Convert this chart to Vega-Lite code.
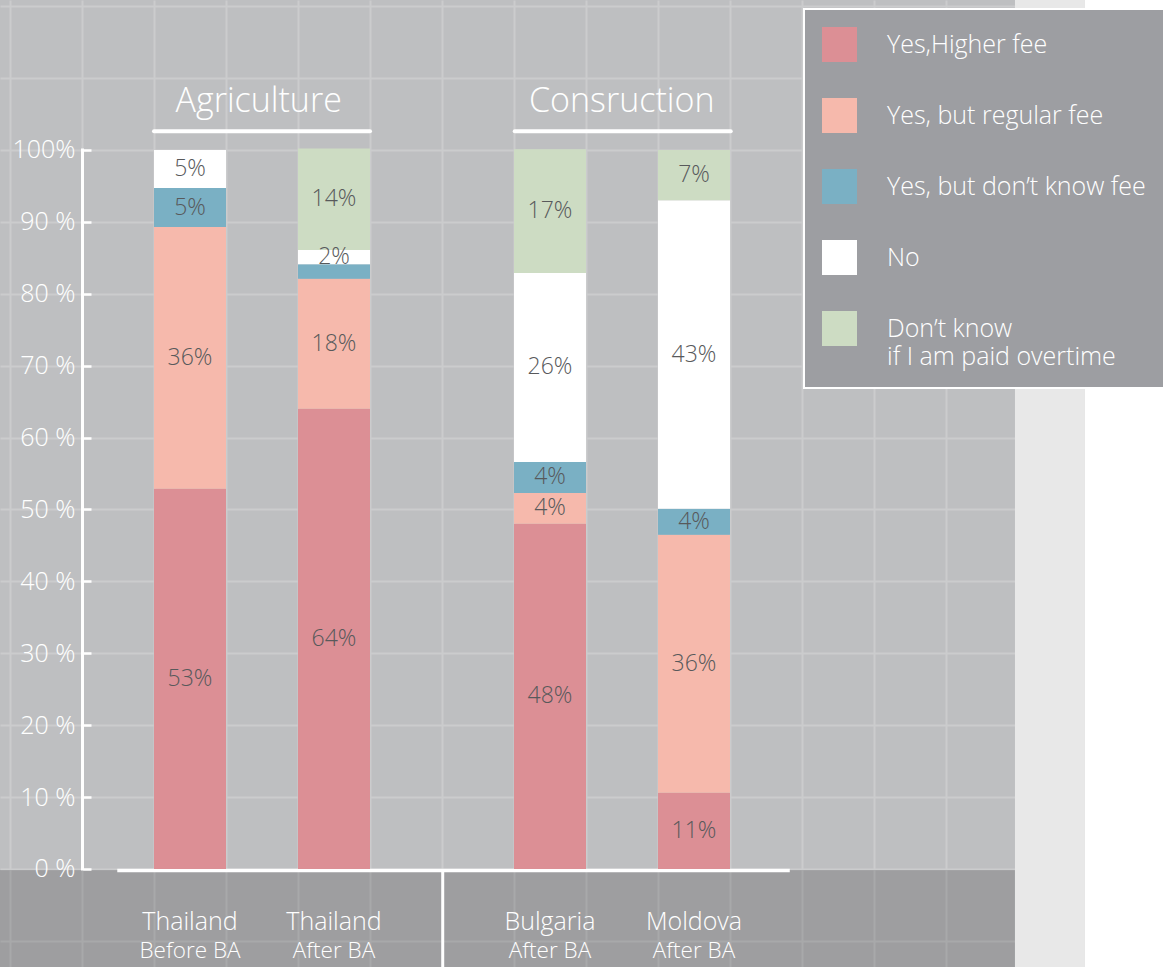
{
  "$schema": "https://vega.github.io/schema/vega-lite/v6.json",
  "width": 1168,
  "height": 967,
  "autosize": "none",
  "padding": 0,
  "background": "#ffffff",
  "config": {"view": {"stroke": null, "fill": "#bebfc1"}, "font": "Open Sans", "style": {"guide-label": {"lineHeight": 28}}, "legend": {"strokeWidth": 2}},
  "resolve": {"scale": {"x": "independent", "y": "independent"}, "axis": {"x": "independent", "y": "independent"}},
  "layer": [
    {
      "data": {"values": [{}]},
      "layer": [
        {
          "mark": {"type": "rect", "color": "#000000", "opacity": 0.17},
          "encoding": {
            "x": {"datum": -1, "type": "quantitative", "scale": {"domain": [-0.1389, 16.0833], "nice": false, "zero": false},
              "axis": {"orient": "bottom", "values": [0,1,2,3,4,5,6,7,8,9,10,11,12,13,14,15,16], "grid": true, "gridColor": "#cbcccd", "gridWidth": 2, "gridOpacity": 1, "labels": false, "ticks": false, "domain": false, "title": null}},
            "x2": {"datum": 13.958},
            "y": {"datum": -0.15, "type": "quantitative", "scale": {"domain": [-13.63, 120.86], "nice": false, "zero": false},
              "axis": {"orient": "left", "values": [-10,0,10,20,30,40,50,60,70,80,90,100,110,120], "grid": true, "gridColor": "#cbcccd", "gridWidth": 2, "gridOpacity": 1, "labels": false, "ticks": false, "domain": false, "title": null}},
            "y2": {"datum": -20}
          }
        },
        {
          "mark": {"type": "rect", "color": "#e8e8e8", "opacity": 1},
          "encoding": {
            "x": {"datum": 13.958, "type": "quantitative", "scale": {"domain": [-0.1389, 16.0833], "nice": false, "zero": false},
              "axis": {"orient": "bottom", "values": [0,1,2,3,4,5,6,7,8,9,10,11,12,13,14,15,16], "grid": true, "gridColor": "#cbcccd", "gridWidth": 2, "gridOpacity": 1, "labels": false, "ticks": false, "domain": false, "title": null}},
            "x2": {"datum": 14.93},
            "y": {"datum": -20, "type": "quantitative", "scale": {"domain": [-13.63, 120.86], "nice": false, "zero": false},
              "axis": {"orient": "left", "values": [-10,0,10,20,30,40,50,60,70,80,90,100,110,120], "grid": true, "gridColor": "#cbcccd", "gridWidth": 2, "gridOpacity": 1, "labels": false, "ticks": false, "domain": false, "title": null}},
            "y2": {"datum": 130}
          }
        },
        {
          "mark": {"type": "rect", "color": "#ffffff", "opacity": 1},
          "encoding": {
            "x": {"datum": 14.93, "type": "quantitative", "scale": {"domain": [-0.1389, 16.0833], "nice": false, "zero": false},
              "axis": {"orient": "bottom", "values": [0,1,2,3,4,5,6,7,8,9,10,11,12,13,14,15,16], "grid": true, "gridColor": "#cbcccd", "gridWidth": 2, "gridOpacity": 1, "labels": false, "ticks": false, "domain": false, "title": null}},
            "x2": {"datum": 17},
            "y": {"datum": -20, "type": "quantitative", "scale": {"domain": [-13.63, 120.86], "nice": false, "zero": false},
              "axis": {"orient": "left", "values": [-10,0,10,20,30,40,50,60,70,80,90,100,110,120], "grid": true, "gridColor": "#cbcccd", "gridWidth": 2, "gridOpacity": 1, "labels": false, "ticks": false, "domain": false, "title": null}},
            "y2": {"datum": 130}
          }
        },
        {
          "mark": {"type": "rule", "color": "#ffffff", "strokeWidth": 3},
          "encoding": {
            "x": {"datum": 6.01, "type": "quantitative", "scale": {"domain": [-0.1389, 16.0833], "nice": false, "zero": false},
              "axis": {"orient": "bottom", "values": [0,1,2,3,4,5,6,7,8,9,10,11,12,13,14,15,16], "grid": true, "gridColor": "#cbcccd", "gridWidth": 2, "gridOpacity": 1, "labels": false, "ticks": false, "domain": false, "title": null}},
            "y": {"datum": -0.15, "type": "quantitative", "scale": {"domain": [-13.63, 120.86], "nice": false, "zero": false},
              "axis": {"orient": "left", "values": [-10,0,10,20,30,40,50,60,70,80,90,100,110,120], "grid": true, "gridColor": "#cbcccd", "gridWidth": 2, "gridOpacity": 1, "labels": false, "ticks": false, "domain": false, "title": null}},
            "y2": {"datum": -20}
          }
        },
        {
          "mark": {"type": "rule", "color": "#ffffff", "strokeWidth": 3.5},
          "encoding": {
            "x": {"datum": 1.49, "type": "quantitative", "scale": {"domain": [-0.1389, 16.0833], "nice": false, "zero": false},
              "axis": {"orient": "bottom", "values": [0,1,2,3,4,5,6,7,8,9,10,11,12,13,14,15,16], "grid": true, "gridColor": "#cbcccd", "gridWidth": 2, "gridOpacity": 1, "labels": false, "ticks": false, "domain": false, "title": null}},
            "x2": {"datum": 10.83},
            "y": {"datum": -0.2, "type": "quantitative", "scale": {"domain": [-13.63, 120.86], "nice": false, "zero": false},
              "axis": {"orient": "left", "values": [-10,0,10,20,30,40,50,60,70,80,90,100,110,120], "grid": true, "gridColor": "#cbcccd", "gridWidth": 2, "gridOpacity": 1, "labels": false, "ticks": false, "domain": false, "title": null}}
          }
        },
        {
          "mark": {"type": "rule", "color": "#ffffff", "strokeWidth": 3},
          "encoding": {
            "x": {"datum": 1.007, "type": "quantitative", "scale": {"domain": [-0.1389, 16.0833], "nice": false, "zero": false},
              "axis": {"orient": "bottom", "values": [0,1,2,3,4,5,6,7,8,9,10,11,12,13,14,15,16], "grid": true, "gridColor": "#cbcccd", "gridWidth": 2, "gridOpacity": 1, "labels": false, "ticks": false, "domain": false, "title": null}},
            "y": {"datum": -0.2, "type": "quantitative", "scale": {"domain": [-13.63, 120.86], "nice": false, "zero": false},
              "axis": {"orient": "left", "values": [-10,0,10,20,30,40,50,60,70,80,90,100,110,120], "grid": true, "gridColor": "#cbcccd", "gridWidth": 2, "gridOpacity": 1, "labels": false, "ticks": false, "domain": false, "title": null}},
            "y2": {"datum": 100.2}
          }
        },
        {
          "mark": {"type": "rule", "color": "#ffffff", "strokeWidth": 4, "strokeCap": "round"},
          "encoding": {
            "x": {"datum": 2, "type": "quantitative", "scale": {"domain": [-0.1389, 16.0833], "nice": false, "zero": false},
              "axis": {"orient": "bottom", "values": [0,1,2,3,4,5,6,7,8,9,10,11,12,13,14,15,16], "grid": true, "gridColor": "#cbcccd", "gridWidth": 2, "gridOpacity": 1, "labels": false, "ticks": false, "domain": false, "title": null}},
            "x2": {"datum": 5},
            "y": {"datum": 102.6, "type": "quantitative", "scale": {"domain": [-13.63, 120.86], "nice": false, "zero": false},
              "axis": {"orient": "left", "values": [-10,0,10,20,30,40,50,60,70,80,90,100,110,120], "grid": true, "gridColor": "#cbcccd", "gridWidth": 2, "gridOpacity": 1, "labels": false, "ticks": false, "domain": false, "title": null}}
          }
        },
        {
          "mark": {"type": "rule", "color": "#ffffff", "strokeWidth": 4, "strokeCap": "round"},
          "encoding": {
            "x": {"datum": 7.01, "type": "quantitative", "scale": {"domain": [-0.1389, 16.0833], "nice": false, "zero": false},
              "axis": {"orient": "bottom", "values": [0,1,2,3,4,5,6,7,8,9,10,11,12,13,14,15,16], "grid": true, "gridColor": "#cbcccd", "gridWidth": 2, "gridOpacity": 1, "labels": false, "ticks": false, "domain": false, "title": null}},
            "x2": {"datum": 10.01},
            "y": {"datum": 102.6, "type": "quantitative", "scale": {"domain": [-13.63, 120.86], "nice": false, "zero": false},
              "axis": {"orient": "left", "values": [-10,0,10,20,30,40,50,60,70,80,90,100,110,120], "grid": true, "gridColor": "#cbcccd", "gridWidth": 2, "gridOpacity": 1, "labels": false, "ticks": false, "domain": false, "title": null}}
          }
        },
        {
          "mark": {"type": "text", "color": "#ffffff", "font": "Open Sans", "fontWeight": 300, "fontSize": 34, "baseline": "alphabetic", "align": "center"},
          "encoding": {
            "x": {"datum": 3.454, "type": "quantitative", "scale": {"domain": [-0.1389, 16.0833], "nice": false, "zero": false},
              "axis": {"orient": "bottom", "values": [0,1,2,3,4,5,6,7,8,9,10,11,12,13,14,15,16], "grid": true, "gridColor": "#cbcccd", "gridWidth": 2, "gridOpacity": 1, "labels": false, "ticks": false, "domain": false, "title": null}},
            "y": {"datum": 105.3, "type": "quantitative", "scale": {"domain": [-13.63, 120.86], "nice": false, "zero": false},
              "axis": {"orient": "left", "values": [-10,0,10,20,30,40,50,60,70,80,90,100,110,120], "grid": true, "gridColor": "#cbcccd", "gridWidth": 2, "gridOpacity": 1, "labels": false, "ticks": false, "domain": false, "title": null}},
            "text": {"value": "Agriculture"}
          }
        },
        {
          "mark": {"type": "text", "color": "#ffffff", "font": "Open Sans", "fontWeight": 300, "fontSize": 34, "baseline": "alphabetic", "align": "center"},
          "encoding": {
            "x": {"datum": 8.496, "type": "quantitative", "scale": {"domain": [-0.1389, 16.0833], "nice": false, "zero": false},
              "axis": {"orient": "bottom", "values": [0,1,2,3,4,5,6,7,8,9,10,11,12,13,14,15,16], "grid": true, "gridColor": "#cbcccd", "gridWidth": 2, "gridOpacity": 1, "labels": false, "ticks": false, "domain": false, "title": null}},
            "y": {"datum": 105.3, "type": "quantitative", "scale": {"domain": [-13.63, 120.86], "nice": false, "zero": false},
              "axis": {"orient": "left", "values": [-10,0,10,20,30,40,50,60,70,80,90,100,110,120], "grid": true, "gridColor": "#cbcccd", "gridWidth": 2, "gridOpacity": 1, "labels": false, "ticks": false, "domain": false, "title": null}},
            "text": {"value": "Consruction"}
          }
        }
      ]
    },
    {
      "data": {
        "values": [
          {"bar": "Thailand Before BA", "country": "Thailand", "stage": "Before BA", "cat": "Yes,Higher fee", "k": 1, "value": 52.9, "label": "53%"},
          {"bar": "Thailand Before BA", "country": "Thailand", "stage": "Before BA", "cat": "Yes, but regular fee", "k": 2, "value": 36.4, "label": "36%"},
          {"bar": "Thailand Before BA", "country": "Thailand", "stage": "Before BA", "cat": "Yes, but don’t know fee", "k": 3, "value": 5.4, "label": "5%"},
          {"bar": "Thailand Before BA", "country": "Thailand", "stage": "Before BA", "cat": "No", "k": 4, "value": 5.3, "label": "5%"},
          {"bar": "Thailand After BA", "country": "Thailand", "stage": "After BA", "cat": "Yes,Higher fee", "k": 1, "value": 64.0, "label": "64%"},
          {"bar": "Thailand After BA", "country": "Thailand", "stage": "After BA", "cat": "Yes, but regular fee", "k": 2, "value": 18.1, "label": "18%"},
          {"bar": "Thailand After BA", "country": "Thailand", "stage": "After BA", "cat": "Yes, but don’t know fee", "k": 3, "value": 2.0, "label": ""},
          {"bar": "Thailand After BA", "country": "Thailand", "stage": "After BA", "cat": "No", "k": 4, "value": 2.0, "label": "2%"},
          {"bar": "Thailand After BA", "country": "Thailand", "stage": "After BA", "cat": "Don’t know if I am paid overtime", "k": 5, "value": 14.1, "label": "14%"},
          {"bar": "Bulgaria After BA", "country": "Bulgaria", "stage": "After BA", "cat": "Yes,Higher fee", "k": 1, "value": 48.0, "label": "48%"},
          {"bar": "Bulgaria After BA", "country": "Bulgaria", "stage": "After BA", "cat": "Yes, but regular fee", "k": 2, "value": 4.3, "label": "4%"},
          {"bar": "Bulgaria After BA", "country": "Bulgaria", "stage": "After BA", "cat": "Yes, but don’t know fee", "k": 3, "value": 4.3, "label": "4%"},
          {"bar": "Bulgaria After BA", "country": "Bulgaria", "stage": "After BA", "cat": "No", "k": 4, "value": 26.3, "label": "26%"},
          {"bar": "Bulgaria After BA", "country": "Bulgaria", "stage": "After BA", "cat": "Don’t know if I am paid overtime", "k": 5, "value": 17.2, "label": "17%"},
          {"bar": "Moldova After BA", "country": "Moldova", "stage": "After BA", "cat": "Yes,Higher fee", "k": 1, "value": 10.6, "label": "11%"},
          {"bar": "Moldova After BA", "country": "Moldova", "stage": "After BA", "cat": "Yes, but regular fee", "k": 2, "value": 35.9, "label": "36%"},
          {"bar": "Moldova After BA", "country": "Moldova", "stage": "After BA", "cat": "Yes, but don’t know fee", "k": 3, "value": 3.6, "label": "4%"},
          {"bar": "Moldova After BA", "country": "Moldova", "stage": "After BA", "cat": "No", "k": 4, "value": 42.9, "label": "43%"},
          {"bar": "Moldova After BA", "country": "Moldova", "stage": "After BA", "cat": "Don’t know if I am paid overtime", "k": 5, "value": 7.0, "label": "7%"}
        ]
      },
      "layer": [
        {
          "mark": {"type": "bar", "opacity": 1},
          "encoding": {
            "x": {"field": "bar", "type": "nominal", "scale": {"domain": ["Thailand Before BA", "_a", "Thailand After BA", "_b", "_c", "Bulgaria After BA", "_d", "Moldova After BA"], "range": [154, 730], "paddingInner": 0, "paddingOuter": 0}, "axis": null},
            "y": {"field": "value", "type": "quantitative", "stack": "zero", "scale": {"domain": [-13.63, 120.86], "nice": false, "zero": false},
              "axis": {"orient": "left", "offset": -91, "values": [0,10,20,30,40,50,60,70,80,90,100], "grid": false, "domain": false, "ticks": true, "tickColor": "#ffffff", "tickWidth": 2.5, "tickSize": 8, "labelPadding": 8, "labelColor": "#ffffff", "labelFont": "Open Sans", "labelFontWeight": 300, "labelFontSize": 25, "labelExpr": "datum.value == 100 ? '100%' : datum.value + ' %'", "title": null, "zindex": 1}},
            "color": {"field": "cat", "type": "nominal",
              "scale": {"domain": ["Yes,Higher fee", "Yes, but regular fee", "Yes, but don’t know fee", "No", "Don’t know if I am paid overtime"], "range": ["#dc8f95", "#f6b9ac", "#7ab0c4", "#ffffff", "#cddcc3"]},
              "legend": {"orient": "none", "legendX": 804, "legendY": 9, "title": null, "fillColor": "#9d9ea2", "strokeColor": "#ffffff", "padding": 18, "symbolType": "square", "symbolSize": 1225, "symbolStrokeWidth": 0, "symbolOpacity": 1, "labelFont": "Open Sans", "labelFontWeight": 300, "labelFontSize": 25, "labelColor": "#ffffff", "labelOffset": 30, "rowPadding": 36, "labelLimit": 400, "labelExpr": "datum.label == 'Don’t know if I am paid overtime' ? ['Don’t know', 'if I am paid overtime'] : datum.label"}},
            "order": {"field": "k", "type": "quantitative"}
          }
        },
        {
          "mark": {"type": "text", "font": "Open Sans", "fontWeight": 300, "fontSize": 23, "color": "#58595b"},
          "encoding": {
            "x": {"field": "bar", "type": "nominal", "scale": {"domain": ["Thailand Before BA", "_a", "Thailand After BA", "_b", "_c", "Bulgaria After BA", "_d", "Moldova After BA"], "range": [154, 730], "paddingInner": 0, "paddingOuter": 0}, "axis": null},
            "y": {"field": "value", "type": "quantitative", "stack": "zero", "bandPosition": 0.5, "scale": {"domain": [-13.63, 120.86], "nice": false, "zero": false},
              "axis": {"orient": "left", "offset": -91, "values": [0,10,20,30,40,50,60,70,80,90,100], "grid": false, "domain": false, "ticks": true, "tickColor": "#ffffff", "tickWidth": 2.5, "tickSize": 8, "labelPadding": 8, "labelColor": "#ffffff", "labelFont": "Open Sans", "labelFontWeight": 300, "labelFontSize": 25, "labelExpr": "datum.value == 100 ? '100%' : datum.value + ' %'", "title": null, "zindex": 1}},
            "detail": {"field": "cat", "type": "nominal"},
            "order": {"field": "k", "type": "quantitative"},
            "text": {"field": "label", "type": "nominal"}
          }
        },
        {
          "transform": [{"filter": "datum.k == 1"}],
          "mark": {"type": "text", "font": "Open Sans", "fontWeight": 300, "fontSize": 25, "color": "#ffffff"},
          "encoding": {
            "x": {"field": "bar", "type": "nominal", "scale": {"domain": ["Thailand Before BA", "_a", "Thailand After BA", "_b", "_c", "Bulgaria After BA", "_d", "Moldova After BA"], "range": [154, 730], "paddingInner": 0, "paddingOuter": 0}, "axis": null},
            "y": {"datum": -7.37, "type": "quantitative", "scale": {"domain": [-13.63, 120.86], "nice": false, "zero": false},
              "axis": {"orient": "left", "offset": -91, "values": [0,10,20,30,40,50,60,70,80,90,100], "grid": false, "domain": false, "ticks": true, "tickColor": "#ffffff", "tickWidth": 2.5, "tickSize": 8, "labelPadding": 8, "labelColor": "#ffffff", "labelFont": "Open Sans", "labelFontWeight": 300, "labelFontSize": 25, "labelExpr": "datum.value == 100 ? '100%' : datum.value + ' %'", "title": null, "zindex": 1}},
            "text": {"field": "country", "type": "nominal"}
          }
        },
        {
          "transform": [{"filter": "datum.k == 1"}],
          "mark": {"type": "text", "font": "Open Sans", "fontWeight": 300, "fontSize": 22.5, "color": "#ffffff"},
          "encoding": {
            "x": {"field": "bar", "type": "nominal", "scale": {"domain": ["Thailand Before BA", "_a", "Thailand After BA", "_b", "_c", "Bulgaria After BA", "_d", "Moldova After BA"], "range": [154, 730], "paddingInner": 0, "paddingOuter": 0}, "axis": null},
            "y": {"datum": -11.45, "type": "quantitative", "scale": {"domain": [-13.63, 120.86], "nice": false, "zero": false},
              "axis": {"orient": "left", "offset": -91, "values": [0,10,20,30,40,50,60,70,80,90,100], "grid": false, "domain": false, "ticks": true, "tickColor": "#ffffff", "tickWidth": 2.5, "tickSize": 8, "labelPadding": 8, "labelColor": "#ffffff", "labelFont": "Open Sans", "labelFontWeight": 300, "labelFontSize": 25, "labelExpr": "datum.value == 100 ? '100%' : datum.value + ' %'", "title": null, "zindex": 1}},
            "text": {"field": "stage", "type": "nominal"}
          }
        }
      ]
    }
  ]
}
